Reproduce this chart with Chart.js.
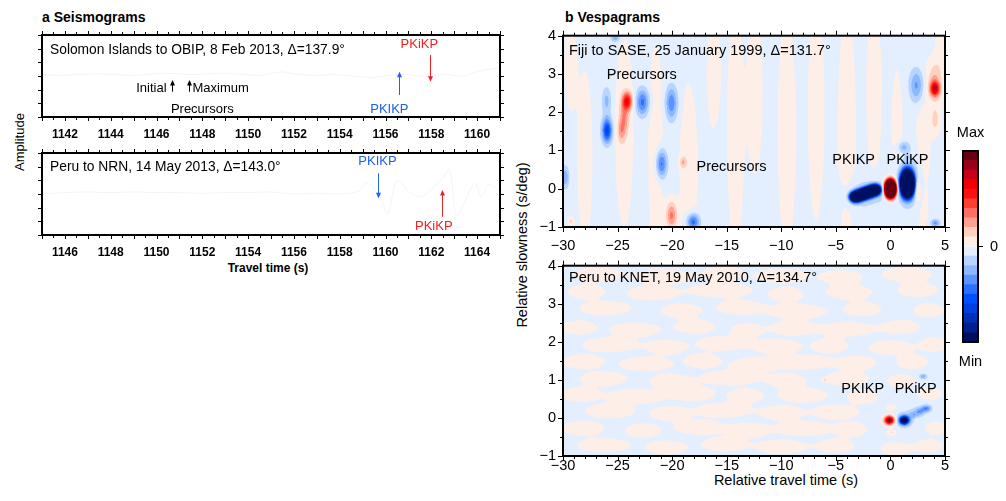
<!DOCTYPE html>
<html><head><meta charset="utf-8">
<script src="https://cdn.jsdelivr.net/npm/chart.js@4.4.0/dist/chart.umd.min.js"></script>
<style>
body{margin:0;background:#fff;width:1006px;height:501px;overflow:hidden;position:relative;font-family:"Liberation Sans",Arial,Helvetica,sans-serif;color:#000;}
canvas{position:absolute;}
.tx{position:absolute;white-space:nowrap;line-height:1;}
.ml{transform:translateY(-50%);}
.mc{transform:translate(-50%,-50%);}
.rot{transform:translate(-50%,-50%) rotate(-90deg);}
</style></head><body>
<div class="tx ml" style="left:42px;top:17px;font-size:14px;font-weight:bold;">a Seismograms</div>
<div class="tx ml" style="left:565px;top:17px;font-size:14px;font-weight:bold;">b Vespagrams</div>
<div class="tx rot" style="left:19px;top:142px;font-size:13px;">Amplitude</div>
<div class="tx mc" style="left:268px;top:268px;font-size:12px;font-weight:bold;">Travel time (s)</div>
<div class="tx rot" style="left:522px;top:245px;font-size:14.5px;">Relative slowness (s/deg)</div>
<div class="tx mc" style="left:786px;top:480px;font-size:14.5px;">Relative travel time (s)</div>
<script>
// ---------------- DATA ----------------
// Seismogram traces (travel time s, amplitude)
const seisTopTime = [1141,1141.8,1142.6,1143.4,1144.2,1145,1145.8,1146.6,1147.4,1148.2,1149,1149.8,1150.6,1151.4,1152.2,1153,1153.8,1154.6,1155.4,1156.2,1157,1157.8,1158.6,1159.4,1160.2,1161];
const seisTopAmp  = [0.1,0.05,0.1,0.15,0.1,0.05,0.15,0.2,0.1,0.15,0.2,0.1,0.05,0.3,0.1,0.05,0.1,0.0,-0.1,0.05,0.1,-0.05,0.1,0.0,0.4,0.6];
const seisBotTime = [1145,1146,1147,1148,1149,1150,1151,1152,1153,1154,1155,1156,1157,1158,1158.8,1159.2,1159.5,1159.8,1160.1,1160.5,1161,1161.5,1162,1162.5,1162.8,1163.1,1163.5,1163.9,1164.2,1164.5,1165];
const seisBotAmp  = [0.0,0.1,0.15,0.1,0.15,0.1,0.1,0.05,0.1,0.1,0.15,0.0,0.05,0.0,0.2,0.8,0.4,-0.3,-1.5,1.0,0.2,-0.2,0.3,1.2,1.8,-1.6,-0.4,0.8,-0.2,0.7,0.2];
const seisTopTicks = [1142,1144,1146,1148,1150,1152,1154,1156,1158,1160];
const seisBotTicks = [1146,1148,1150,1152,1154,1156,1158,1160,1162,1164];

// Vespagram axes
const vespaTimeTicks = [-30,-25,-20,-15,-10,-5,0,5];
const vespaSlowTicks = [-1,0,1,2,3,4];

// Fiji→SASE vespagram energy features: time (s), slowness (s/deg), amplitude, spread in time, spread in slowness
const fijiT  = [-25.96,-26.0,-24.1,-24.4,-24.7,-22.72,-20.06,-20.98,-19.0,-20.06,-18.08,-3.2,-2.6,-2.0,-1.4,-2.0,0.0,1.55,1.17,1.5,2.45,4.08,4.0,2.4,4.1,4.1,-29.8,-25.2,-29.3];
const fijiS  = [1.52,2.3,2.29,1.85,1.5,2.26,2.24,0.65,0.69,-0.7,-0.87,-0.21,-0.15,-0.09,-0.03,-0.15,0.0,0.13,1.09,0.2,0.0,2.61,2.8,2.7,1.8,-0.9,0.3,3.95,-0.85];
const fijiA  = [-0.6,-0.2,0.58,0.25,0.18,-0.4,-0.35,-0.42,0.2,0.35,-0.45,-2.5,-2.5,-2.5,-2.5,-0.12,5,-5,-0.2,-0.22,0.25,0.65,0.22,-0.3,0.16,-0.3,-0.25,-0.25,0.15];
const fijiWT = [0.32,0.3,0.32,0.3,0.25,0.42,0.38,0.35,0.22,0.35,0.4,0.33,0.33,0.33,0.33,1.5,0.3,0.35,0.4,0.9,0.18,0.3,0.4,0.45,0.3,0.3,0.25,0.3,0.2];
const fijiWS = [0.22,0.25,0.16,0.3,0.2,0.24,0.3,0.25,0.1,0.25,0.15,0.085,0.085,0.085,0.085,0.3,0.135,0.19,0.1,0.45,0.2,0.13,0.35,0.3,0.25,0.07,0.2,0.08,0.08];
// Fiji weak background stripes (pale positive energy)
const fijiStripeT  = [-29.3,-28.0,-24.4,-21.5,-18.5,-16.2,-14.2,-12.4,-9.5,-6.8,-4.0,-1.5,0.6,3.0,4.6];
const fijiStripeS  = [3.2,0.8,1.5,1.0,0.5,3.0,1.5,2.5,1.5,2.0,1.5,2.5,1.0,0.8,3.5];
const fijiStripeA  = [0.08,0.08,0.08,0.08,0.08,0.08,0.08,0.08,0.08,0.08,0.08,0.08,0.08,0.08,0.08];
const fijiStripeWT = [0.4,0.5,0.6,0.5,0.6,0.45,0.55,0.5,0.6,0.55,0.6,0.5,0.4,0.5,0.35];
const fijiStripeWS = [0.8,1.6,1.8,2.0,1.6,1.0,2.2,1.5,2.2,2.0,2.2,1.6,1.5,1.6,0.8];

// Peru→KNET vespagram energy features
const knetT  = [-0.1,1.26,2.1,2.7,3.3,3.0,0.1,0.1,-6.0,2.4,1.5];
const knetS  = [-0.06,-0.06,0.08,0.17,0.25,1.09,0.27,-0.38,1.0,-0.05,0.05];
const knetA  = [1.0,-1.3,-0.2,-0.25,-0.35,-0.25,0.15,0.15,0.15,0.15,-0.06];
const knetWT = [0.32,0.3,0.3,0.3,0.3,0.25,0.35,0.3,0.1,0.1,1.3];
const knetWS = [0.08,0.075,0.07,0.07,0.06,0.05,0.06,0.06,0.03,0.04,0.35];
// Peru→KNET weak background patches (pale positive)
const knetNoiseT = [-26.9,-20.8,-15.3,-10,-4.5,1.5, -27.9,-21.9,-15.5,-9.5,-3.8,2.5, -26.1,-19.2,-13.8,-8.5,-2.5,3.5,
  -28.6,-23.4,-17.9,-13.2,-9.0,-4.0,1.0, -25.7,-20.5,-15.6,-10.5,-5.5,0.0,4.0, -28.2,-22.4,-17.2,-12.6,-8.0,-3.0,2.0,
  -26.3,-20.2,-14.7,-9.5,-4.0,1.0, -28.5,-23.3,-18.1,-13.3,-8.0,-2.5,3.5, -25.7,-20.2,-15.3,-10.0,-5.0,
  -28.2,-22.7,-17.5,-13.0,-8.0,-3.5,4.0, -26.3,-20.5,-15.3,-10.0,-5.0,0.5,3.5];
const knetNoiseS = [3.78,3.72,3.8,3.74,3.7,3.77, 3.32,3.28,3.35,3.25,3.3,3.36, 2.88,2.82,2.9,2.8,2.86,2.83,
  2.38,2.32,2.4,2.3,2.36,2.33,2.39, 1.92,1.86,1.95,1.88,1.9,1.85,1.93, 1.48,1.42,1.5,1.4,1.46,1.44,1.47,
  1.03,0.97,1.05,0.98,1.02,0.96, 0.62,0.57,0.64,0.58,0.6,0.56,0.63, 0.18,0.12,0.2,0.14,0.16,
  -0.27,-0.33,-0.25,-0.32,-0.28,-0.3,-0.26, -0.72,-0.78,-0.7,-0.76,-0.74,-0.8,-0.73];
const knetNoiseWT = [1.5,1.9,1.2,1.7,1.3,1.6, 1.2,1.6,2.0,1.1,1.5,1.3, 1.7,1.3,1.5,1.9,1.2,1.0,
  1.1,1.6,1.3,1.0,1.4,1.8,1.2, 1.8,1.2,1.5,1.6,1.1,1.4,0.9, 1.3,1.7,1.1,1.4,1.9,1.2,1.0,
  1.5,1.3,1.8,1.2,1.4,0.9, 1.2,1.8,1.4,1.1,1.6,1.0,0.9, 1.6,1.2,1.7,1.3,1.5,
  1.4,1.1,1.6,1.2,1.8,1.0,0.8, 1.7,1.3,1.4,1.6,1.2,1.0,0.9];

// Colour scale edges (Min .. 0 .. Max)
const cbEdges = [-1,-0.9,-0.8,-0.7,-0.6,-0.5,-0.4,-0.3,-0.2,-0.1,0,0.1,0.2,0.3,0.4,0.5,0.6,0.7,0.8,0.9,1];

// ---------------- STYLE ----------------
const FONT = "'Liberation Sans', Arial, Helvetica, sans-serif";
Chart.defaults.font.family = FONT;
Chart.defaults.color = '#000';
const BLUE = '#2160f0', RED = '#f22020';
const VFONT = 14.5;
const PAL_POS = ['#fdeee8','#ffd0c0','#ffa090','#ff7060','#ff4030','#ff1010','#f00000','#c80018','#9a0018','#680010'];
const PAL_NEG = ['#e3eeff','#b8d4ff','#8cb8ff','#5a94ff','#2a70ff','#0050ff','#0040e0','#0030b8','#002090','#001060'];
function hexRgb(h){return [parseInt(h.slice(1,3),16),parseInt(h.slice(3,5),16),parseInt(h.slice(5,7),16)];}
const RGB_POS = PAL_POS.map(hexRgb), RGB_NEG = PAL_NEG.map(hexRgb);
function levelIdx(v){ return Math.min(9, Math.floor(Math.abs(v)*10 + 1e-9)); }
function levelRgb(v){ const k = levelIdx(v); return v >= 0 ? RGB_POS[k] : RGB_NEG[k]; }
function levelHex(v){ const k = levelIdx(v); return v >= 0 ? PAL_POS[k] : PAL_NEG[k]; }
const fmtMinus = v => v < 0 ? '\u2212' + (-v) : String(v);

function makeCanvas(left, top, w, h){
  const c = document.createElement('canvas');
  c.width = w; c.height = h;
  c.style.left = left + 'px'; c.style.top = top + 'px';
  c.style.width = w + 'px'; c.style.height = h + 'px';
  document.body.appendChild(c);
  return c;
}

function isMult(v, m){ const q = v / m; return Math.abs(q - Math.round(q)) < 1e-6; }

function framePlugin(cfg){
  return { id: 'frame', afterDraw(chart){
    const {ctx, chartArea: a, scales: {x, y}} = chart;
    ctx.save();
    ctx.strokeStyle = '#000'; ctx.lineWidth = 1;
    ctx.beginPath();
    const nx = Math.round((x.max - x.min) / cfg.xMinor);
    for (let k = 0; k <= nx; k++){
      const v = x.min + k * cfg.xMinor;
      const px = Math.round(x.getPixelForValue(v)) + 0.5;
      const L = isMult(v, cfg.xMajor) ? cfg.majLen : cfg.minLen;
      ctx.moveTo(px, a.bottom); ctx.lineTo(px, a.bottom + L);
      ctx.moveTo(px, a.top); ctx.lineTo(px, a.top - L);
    }
    const ny = Math.round((y.max - y.min) / cfg.yMinor);
    for (let k = 0; k <= ny; k++){
      const v = y.min + k * cfg.yMinor;
      const py = Math.round(y.getPixelForValue(v)) + 0.5;
      const L = isMult(v, cfg.yMajor) ? cfg.yMajLen : cfg.yMinLen;
      ctx.moveTo(a.left, py); ctx.lineTo(a.left - L, py);
      ctx.moveTo(a.right, py); ctx.lineTo(a.right + L, py);
    }
    ctx.stroke();
    ctx.lineWidth = 2;
    ctx.strokeRect(a.left, a.top, a.right - a.left, a.bottom - a.top);
    ctx.restore();
  }};
}

function drawArrow(ctx, x, y0, y1, color){
  const dir = Math.sign(y1 - y0);
  ctx.strokeStyle = color; ctx.fillStyle = color; ctx.lineWidth = 1;
  ctx.beginPath(); ctx.moveTo(x, y0); ctx.lineTo(x, y1 - dir * 4); ctx.stroke();
  ctx.beginPath(); ctx.moveTo(x, y1); ctx.lineTo(x - 2.5, y1 - dir * 5.5); ctx.lineTo(x + 2.5, y1 - dir * 5.5); ctx.closePath(); ctx.fill();
}

function notesPlugin(n){
  return { id: 'notes', afterDatasetsDraw(chart){
    const {ctx, chartArea: a, scales: {x, y}} = chart;
    ctx.save();
    ctx.textBaseline = 'middle';
    ctx.font = n.labelFont; ctx.fillStyle = '#000'; ctx.textAlign = 'left';
    ctx.fillText(n.label, a.left + n.labelDx, a.top + n.labelDy);
    ctx.font = n.noteFont;
    (n.texts || []).forEach(([s, t, v, al, col]) => {
      ctx.fillStyle = col; ctx.textAlign = al;
      ctx.fillText(s, x.getPixelForValue(t), y.getPixelForValue(v));
    });
    (n.arrows || []).forEach(([t, v0, v1, col]) => {
      drawArrow(ctx, Math.round(x.getPixelForValue(t)) + 0.5, y.getPixelForValue(v0), y.getPixelForValue(v1), col);
    });
    ctx.restore();
  }};
}

function fieldPlugin(layers, base){
  return { id: 'field', beforeDatasetsDraw(chart){
    const {ctx, chartArea: a, scales: {x, y}} = chart;
    const SS = 2;
    const w = Math.round(a.right - a.left), h = Math.round(a.bottom - a.top);
    const W = w * SS, H = h * SS;
    const off = document.createElement('canvas'); off.width = W; off.height = H;
    const octx = off.getContext('2d');
    const img = octx.createImageData(W, H); const d = img.data;
    const B = [];
    layers.forEach(L => { for (let i = 0; i < L.t.length; i++) B.push([L.t[i], L.s[i], L.a[i], L.wt[i], L.ws[i]]); });
    const ts = new Float64Array(W);
    for (let i = 0; i < W; i++) ts[i] = x.getValueForPixel(a.left + (i + 0.5) / SS);
    for (let j = 0; j < H; j++){
      const s = y.getValueForPixel(a.top + (j + 0.5) / SS);
      const rowB = B.filter(b => Math.abs(s - b[1]) < 4 * b[4]);
      for (let i = 0; i < W; i++){
        const t = ts[i];
        let v = base;
        for (let q = 0; q < rowB.length; q++){
          const b = rowB[q];
          const dt = (t - b[0]) / b[3]; if (dt > 4 || dt < -4) continue;
          const ds = (s - b[1]) / b[4];
          v += b[2] * Math.exp(-0.5 * (dt * dt + ds * ds));
        }
        const c = levelRgb(v); const p = (j * W + i) * 4;
        d[p] = c[0]; d[p + 1] = c[1]; d[p + 2] = c[2]; d[p + 3] = 255;
      }
    }
    octx.putImageData(img, 0, 0);
    ctx.save(); ctx.imageSmoothingEnabled = true; ctx.imageSmoothingQuality = 'high';
    ctx.drawImage(off, a.left, a.top, w, h); ctx.restore();
  }};
}

const common = { responsive: false, animation: false, devicePixelRatio: 1,
  plugins: { legend: { display: false }, tooltip: { enabled: false } } };

// ---------------- SEISMOGRAMS ----------------
function seisChart(canvas, times, amps, xmin, xmax, ticks, padTop, axisH, notes){
  return new Chart(canvas, {
    type: 'line',
    data: { datasets: [{ data: times.map((t, i) => ({ x: t, y: amps[i] })), borderColor: 'rgba(0,0,0,0.07)', borderWidth: 0.7, pointRadius: 0, tension: 0.3, fill: false }] },
    options: Object.assign({}, common, {
      layout: { padding: { left: 42, right: 10, top: padTop, bottom: 0 } },
      scales: {
        x: { type: 'linear', min: xmin, max: xmax,
             afterFit: s => { s.height = axisH; },
             afterBuildTicks: s => { s.ticks = ticks.map(v => ({ value: v })); },
             grid: { display: false, drawTicks: false }, border: { display: false },
             ticks: { font: { family: FONT, size: 12, weight: 'bold' }, color: '#000', padding: 10, maxRotation: 0, autoSkip: false, callback: v => String(v) } },
        y: { type: 'linear', min: -3, max: 3, display: false }
      }
    }),
    plugins: [framePlugin({ xMinor: 0.5, xMajor: 1, majLen: 4, minLen: 3, yMinor: 1, yMajor: 1, yMajLen: 4, yMinLen: 4 }), notesPlugin(notes)]
  });
}

seisChart(makeCanvas(0, 20, 510, 125), seisTopTime, seisTopAmp, 1141, 1161, seisTopTicks, 15, 28, {
  label: 'Solomon Islands to OBIP, 8 Feb 2013, \u0394=137.9\u00b0', labelDx: 8, labelDy: 15,
  labelFont: "13.8px " + FONT, noteFont: "13px " + FONT,
  texts: [['PKiKP', 1157.48, 2.34, 'center', RED], ['PKIKP', 1156.17, -2.41, 'center', BLUE],
          ['Initial', 1146.44, -0.88, 'right', '#000'], ['Maximum', 1147.57, -0.88, 'left', '#000'],
          ['Precursors', 1148.0, -2.41, 'center', '#000']],
  arrows: [[1157.94, 1.54, -0.42, RED], [1156.6, -1.39, 0.32, BLUE], [1146.66, -1.15, -0.29, '#000'], [1147.4, -1.15, -0.29, '#000']]
});

seisChart(makeCanvas(0, 140, 510, 140), seisBotTime, seisBotAmp, 1145, 1165, seisBotTicks, 13, 45, {
  label: 'Peru to NRN, 14 May 2013, \u0394=143.0\u00b0', labelDx: 8, labelDy: 14,
  labelFont: "13.8px " + FONT, noteFont: "13px " + FONT,
  texts: [['PKIKP', 1159.65, 2.36, 'center', BLUE], ['PKiKP', 1162.11, -2.39, 'center', RED]],
  arrows: [[1159.68, 1.51, -0.31, BLUE], [1162.48, -1.66, 0.29, RED]]
});

// ---------------- VESPAGRAMS ----------------
function vespaChart(canvas, axisH, labelPad, layers, notes){
  const pts = [];
  layers.forEach(L => L.t.forEach((t, i) => pts.push({ x: t, y: L.s[i] })));
  return new Chart(canvas, {
    type: 'scatter',
    data: { datasets: [{ data: pts, pointRadius: 0, showLine: false }] },
    options: Object.assign({}, common, {
      layout: { padding: { left: 0, right: 15, top: 15, bottom: 0 } },
      scales: {
        x: { type: 'linear', min: -30, max: 5,
             afterFit: s => { s.height = axisH; },
             afterBuildTicks: s => { s.ticks = vespaTimeTicks.map(v => ({ value: v })); },
             grid: { display: false, drawTicks: false }, border: { display: false },
             ticks: { font: { family: FONT, size: VFONT }, color: '#000', padding: labelPad, maxRotation: 0, autoSkip: false, callback: fmtMinus } },
        y: { type: 'linear', min: -1, max: 4,
             afterFit: s => { s.width = 43; },
             afterBuildTicks: s => { s.ticks = vespaSlowTicks.map(v => ({ value: v })); },
             grid: { display: false, drawTicks: false }, border: { display: false },
             ticks: { font: { family: FONT, size: VFONT }, color: '#000', padding: 7, autoSkip: false, callback: fmtMinus } }
      }
    }),
    plugins: [fieldPlugin(layers, -0.03),
              framePlugin({ xMinor: 1, xMajor: 5, majLen: 5, minLen: 3, yMinor: 0.5, yMajor: 1, yMajLen: 5, yMinLen: 3 }),
              notesPlugin(notes)]
  });
}

vespaChart(makeCanvas(520, 20, 440, 235), 28, 10, [
  { t: fijiT, s: fijiS, a: fijiA, wt: fijiWT, ws: fijiWS },
  { t: fijiStripeT, s: fijiStripeS, a: fijiStripeA, wt: fijiStripeWT, ws: fijiStripeWS }
], {
  label: 'Fiji to SASE, 25 January 1999, \u0394=131.7\u00b0', labelDx: 6, labelDy: 15,
  labelFont: VFONT + "px " + FONT, noteFont: VFONT + "px " + FONT,
  texts: [['Precursors', -22.78, 2.96, 'center', '#000'], ['Precursors', -14.56, 0.57, 'center', '#000'],
          ['PKIKP', -3.37, 0.76, 'center', '#000'], ['PKiKP', 1.56, 0.76, 'center', '#000']]
});

vespaChart(makeCanvas(520, 250, 440, 250), 44, 1, [
  { t: knetT, s: knetS, a: knetA, wt: knetWT, ws: knetWS },
  { t: knetNoiseT, s: knetNoiseS, a: knetNoiseT.map(() => 0.08), wt: knetNoiseWT, ws: knetNoiseT.map(() => 0.13) }
], {
  label: 'Peru to KNET, 19 May 2010, \u0394=134.7\u00b0', labelDx: 6, labelDy: 12,
  labelFont: VFONT + "px " + FONT, noteFont: VFONT + "px " + FONT,
  texts: [['PKIKP', -2.54, 0.77, 'center', '#000'], ['PKiKP', 2.32, 0.77, 'center', '#000']]
});

// ---------------- COLOUR BAR ----------------
const cbDatasets = [];
for (let k = 0; k < cbEdges.length - 1; k++){
  cbDatasets.push({ data: [[cbEdges[k], cbEdges[k + 1]]], backgroundColor: levelHex((cbEdges[k] + cbEdges[k + 1]) / 2),
    borderWidth: 0, grouped: false, barPercentage: 1, categoryPercentage: 1 });
}
new Chart(makeCanvas(950, 100, 56, 300), {
  type: 'bar',
  data: { labels: [''], datasets: cbDatasets },
  options: Object.assign({}, common, {
    layout: { padding: { left: 13, right: 0, top: 51, bottom: 58 } },
    scales: {
      x: { display: false },
      y: { type: 'linear', position: 'right', min: -1, max: 1,
           afterFit: s => { s.width = 28; },
           afterBuildTicks: s => { s.ticks = [{ value: 0 }]; },
           grid: { display: true, drawOnChartArea: false, drawTicks: true, tickLength: 5, color: '#000', lineWidth: 1 },
           border: { display: false },
           ticks: { font: { family: FONT, size: VFONT }, color: '#000', padding: 7, callback: v => String(v) } }
    }
  }),
  plugins: [{ id: 'cbframe', afterDraw(chart){
    const { ctx, chartArea: a } = chart;
    ctx.save();
    ctx.lineWidth = 2; ctx.strokeStyle = '#000';
    ctx.strokeRect(a.left, a.top, a.right - a.left, a.bottom - a.top);
    ctx.font = VFONT + "px " + FONT; ctx.fillStyle = '#000'; ctx.textAlign = 'center'; ctx.textBaseline = 'middle';
    const cx = (a.left + a.right) / 2;
    ctx.fillText('Max', cx, a.top - 18);
    ctx.fillText('Min', cx, a.bottom + 20);
    ctx.restore();
  }}]
});
</script>
</body></html>
